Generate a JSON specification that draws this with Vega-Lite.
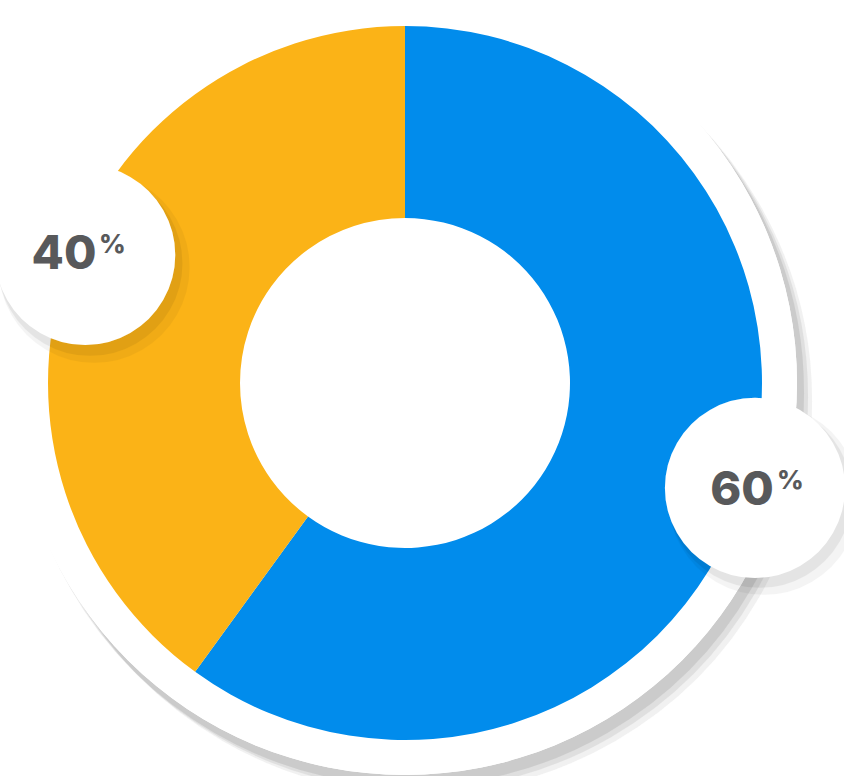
{
  "$schema": "https://vega.github.io/schema/vega-lite/v6.json",
  "width": 810,
  "height": 766,
  "autosize": {"type": "none"},
  "padding": {"left": 0, "top": 0, "right": 34, "bottom": 10},
  "background": "white",
  "config": {"view": {"stroke": null}},
  "data": {"values": [
    {"segment": "A", "value": 60, "order": 1},
    {"segment": "B", "value": 40, "order": 2}
  ]},
  "layer": [
    {"mark": {"type": "text", "text": "●", "font": "DejaVu Sans", "fontSize": 1030, "dx": 14, "dy": -25, "baseline": "middle", "align": "center", "fill": "#000", "opacity": 0.025}, "encoding": {}},
    {"mark": {"type": "text", "text": "●", "font": "DejaVu Sans", "fontSize": 1030, "dx": 10, "dy": -29, "baseline": "middle", "align": "center", "fill": "#000", "opacity": 0.03}, "encoding": {}},
    {"mark": {"type": "text", "text": "●", "font": "DejaVu Sans", "fontSize": 1030, "dx": 6, "dy": -33, "baseline": "middle", "align": "center", "fill": "#000", "opacity": 0.04}, "encoding": {}},
    {"mark": {"type": "arc", "outerRadius": 392, "fill": "#ffffff"}, "encoding": {}},
    {
      "mark": {"type": "arc", "outerRadius": 357, "innerRadius": 165},
      "encoding": {
        "theta": {"field": "value", "type": "quantitative", "stack": true},
        "order": {"field": "order", "type": "ordinal"},
        "color": {"field": "segment", "type": "nominal", "legend": null,
          "scale": {"domain": ["A", "B"], "range": ["#018CEC", "#FBB317"]}}
      }
    },
    {
      "mark": {"type": "text", "text": "●", "font": "DejaVu Sans", "fontSize": 250, "radius": 354.5, "thetaOffset": 0.02, "dx": 24, "dy": -10, "baseline": "middle", "align": "center", "fill": "#000", "opacity": 0.04},
      "encoding": {
        "theta": {"field": "value", "type": "quantitative", "stack": true},
        "order": {"field": "order", "type": "ordinal"}
      }
    },
    {
      "mark": {"type": "text", "text": "●", "font": "DejaVu Sans", "fontSize": 242, "radius": 354.5, "thetaOffset": 0.02, "dx": 20, "dy": -14, "baseline": "middle", "align": "center", "fill": "#000", "opacity": 0.06},
      "encoding": {
        "theta": {"field": "value", "type": "quantitative", "stack": true},
        "order": {"field": "order", "type": "ordinal"}
      }
    },
    {
      "mark": {"type": "text", "text": "●", "font": "DejaVu Sans", "fontSize": 236, "radius": 354.5, "thetaOffset": 0.02, "dx": 15, "dy": -21.5, "baseline": "middle", "align": "center", "fill": "#ffffff"},
      "encoding": {
        "theta": {"field": "value", "type": "quantitative", "stack": true},
        "order": {"field": "order", "type": "ordinal"}
      }
    },
    {
      "mark": {"type": "text", "font": "Inter", "fontWeight": 800, "fontSize": 47, "radius": 359, "thetaOffset": 0.021, "dx": -2, "dy": 4, "baseline": "alphabetic", "align": "center", "fill": "#58595B"},
      "encoding": {
        "theta": {"field": "value", "type": "quantitative", "stack": true},
        "order": {"field": "order", "type": "ordinal"},
        "text": {"field": "value", "type": "quantitative"}
      }
    },
    {
      "mark": {"type": "text", "text": "%", "font": "Inter", "fontWeight": 800, "fontSize": 26, "radius": 359, "thetaOffset": 0.021, "dx": 33, "dy": -12, "baseline": "alphabetic", "align": "left", "fill": "#58595B"},
      "encoding": {
        "theta": {"field": "value", "type": "quantitative", "stack": true},
        "order": {"field": "order", "type": "ordinal"}
      }
    }
  ]
}
